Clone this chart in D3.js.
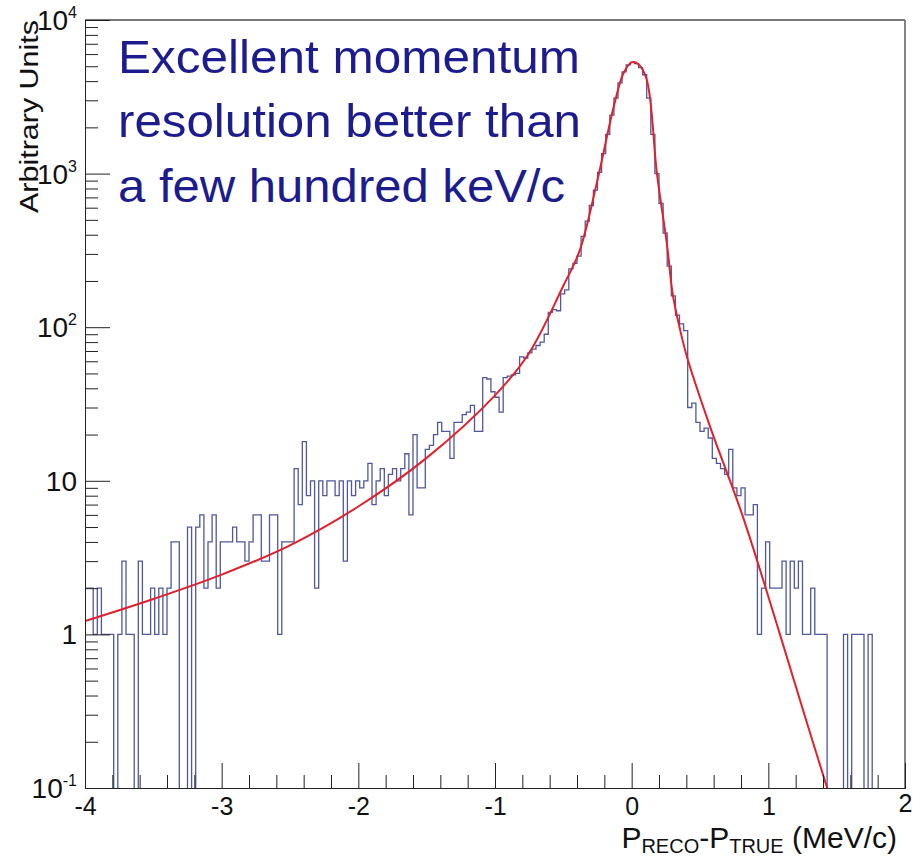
<!DOCTYPE html>
<html><head><meta charset="utf-8">
<script src="https://cdn.jsdelivr.net/npm/d3@7"></script>
<style>body{margin:0;background:#fff}svg{display:block}</style>
</head><body>
<script>
// ---- data ----
const binStart = -4, binWidth = 0.03;
const counts = [
  2,2,1,2,1,1,1,0,1,3, 1,1,0,3,1,1,2,1,2,1,
  2,4,4,0,0,5,0,5,6,2, 4,6,2,4,4,4,5,4,4,3,
  4,6,6,3,3,6,6,1,4,4, 4,12,7,18,8,10,2,10,8,10,
  10,8,10,3,10,8,10,9,10,13, 7,10,12,8,11,12,10,12,15,6,
  20,9,9,16,17,20,24,21,21,14, 24,24,27,28,31,21,21,47,46,38,
  35,28,47,48,49,50,64,63,68,72, 76,80,90,125,130,128,165,175,240,260,
  290,390,490,620,780,1020,1350,1800,2400,3100, 3900,4600,5100,5300,5200,4900,4400,3100,1800,1000,
  640,410,250,160,120,105,95,30,32,24, 21,22,19,14,13,12,11,16,9,8,
  9,6,6,7,1,2,4,2,2,2, 3,1,3,2,3,1,1,2,1,1,
  1,0,0,0,0,1,0,1,1,1, 0,1,0,0,0,0,0,0,0,0
];
const fitX = [-4.0,-3.5,-3.0,-2.5,-2.0,-1.5,-1.0,-0.75,-0.5,-0.38,-0.25,-0.13,-0.06,0.0,0.05,0.11,0.185,0.26,0.3,0.35,0.405,0.573,0.815,1.085,1.28,1.45];
const fitY = [1.22,1.70,2.45,3.8,6.8,14.1,36,68,186,316,910,2750,4500,5300,5150,4100,1000,336,165,100,64,22.6,5.8,1.0,0.27,0.088];
const xTickValues = [-4,-3,-2,-1,0,1,2];
const yTickExponents = [-1,0,1,2,3,4];
const annotationLines = ["Excellent momentum","resolution better than","a few hundred keV/c"];
const xTitleParts = [["P",""],["RECO","sub"],["-P",""],["TRUE","sub"],[" (MeV/c)",""]];
const yTitle = "Arbitrary Units";

// ---- layout ----
const W = 913, H = 859;
const L = 85, R = 905, T = 20, B = 788;
const font = "'Liberation Sans', Arial, Helvetica, sans-serif";

const svg = d3.select("body").append("svg").attr("width", W).attr("height", H)
  .style("font-family", font);

const x = d3.scaleLinear().domain([-4, 2]).range([L, R]);
const y = d3.scaleLog().domain([0.1, 1e4]).range([B, T]);

svg.append("defs").append("clipPath").attr("id","plot")
  .append("rect").attr("x", L).attr("y", T).attr("width", R-L).attr("height", B-T);

// histogram step outline
const yv = v => v > 0 ? y(v) : B + 2;
let d = `M${x(binStart)},${B + 2}`;
counts.forEach((v, i) => {
  const x1 = x(binStart + (i+1)*binWidth);
  d += `V${yv(v)}H${x1}`;
});
d += `V${B + 2}`;
svg.append("path").attr("d", d).attr("clip-path","url(#plot)")
  .attr("fill","none").attr("stroke","#4f589d").attr("stroke-width",1.3);

// fit curve
const fitPts = fitX.map((v,i)=>[v, fitY[i]]);
svg.append("path").datum(fitPts).attr("clip-path","url(#plot)")
  .attr("d", d3.line().x(p=>x(p[0])).y(p=>y(p[1])).curve(d3.curveCatmullRom.alpha(0.5)))
  .attr("fill","none").attr("stroke","#e0202a").attr("stroke-width",2);

// frame
svg.append("line").attr("x1",L).attr("x2",R).attr("y1",T).attr("y2",T).attr("stroke","#777").attr("stroke-width",1.8);
svg.append("line").attr("x1",R).attr("x2",R).attr("y1",T).attr("y2",B).attr("stroke","#777").attr("stroke-width",1.8);

// x axis
const xMinor = d3.range(-4, 2.0001, 0.2).map(v => Math.round(v*100)/100).filter(v => !xTickValues.includes(v));
const gx = svg.append("g").attr("transform", `translate(0,${B})`);
gx.call(d3.axisBottom(x).tickValues(xMinor).tickSize(-13).tickFormat(""));
gx.call(g => g.append("g").call(d3.axisBottom(x).tickValues(xTickValues).tickSize(-25).tickFormat(v => String(v))));
gx.selectAll(".domain").attr("stroke","#222");
gx.selectAll("line").attr("stroke","#222");
gx.selectAll("text").attr("fill","#111").style("font-size","25px").style("font-family",font)
  .attr("y", 27).attr("dy","0");
gx.selectAll("text").filter(v => v === 2).attr("y", 24);

// y axis
const yMinor = [];
yTickExponents.slice(0,-1).forEach(e => { for (let k=2;k<=9;k++) yMinor.push(k*Math.pow(10,e)); });
const yMajor = yTickExponents.map(e => Math.pow(10, e));
const gy = svg.append("g").attr("transform", `translate(${L},0)`);
gy.call(d3.axisLeft(y).tickValues(yMinor).tickSize(-13).tickFormat(""));
gy.call(g => g.append("g").call(d3.axisLeft(y).tickValues(yMajor).tickSize(-25).tickFormat("")));
gy.selectAll(".domain").attr("stroke","#222");
gy.selectAll("line").attr("stroke","#222");

// y tick labels with superscripts
yTickExponents.forEach(e => {
  const t = svg.append("text").attr("x", 77).attr("y", y(Math.pow(10,e)) + 10)
    .attr("text-anchor","end").attr("fill","#111").style("font-size","28px");
  if (e === 0) t.text("1");
  else if (e === 1) t.text("10");
  else {
    t.append("tspan").text("10");
    t.append("tspan").attr("dy", -12).style("font-size","16px").text(String(e));
  }
});

// y title
svg.append("text").attr("transform", `translate(38,${T}) rotate(-90)`)
  .attr("text-anchor","end").attr("fill","#111").style("font-size","25px")
  .attr("textLength", 193).attr("lengthAdjust","spacingAndGlyphs").text(yTitle);

// x title
const xt = svg.append("text").attr("x", 897).attr("y", 848).attr("text-anchor","end")
  .attr("fill","#111").style("font-size","30px");
xTitleParts.forEach(([s, kind], i) => {
  const ts = xt.append("tspan").text(s);
  if (kind === "sub") ts.attr("dy", 5).style("font-size","20px");
  else if (i > 0 && xTitleParts[i-1][1] === "sub") ts.attr("dy", -5);
});

// annotation
const annW = [462, 463, 447];
annotationLines.forEach((s, i) => {
  svg.append("text").attr("x", 118).attr("y", 73 + i*64.3)
    .attr("fill","#1c1c8e").style("font-size","47px")
    .attr("textLength", annW[i]).attr("lengthAdjust","spacingAndGlyphs").text(s);
});
</script>
</body></html>
